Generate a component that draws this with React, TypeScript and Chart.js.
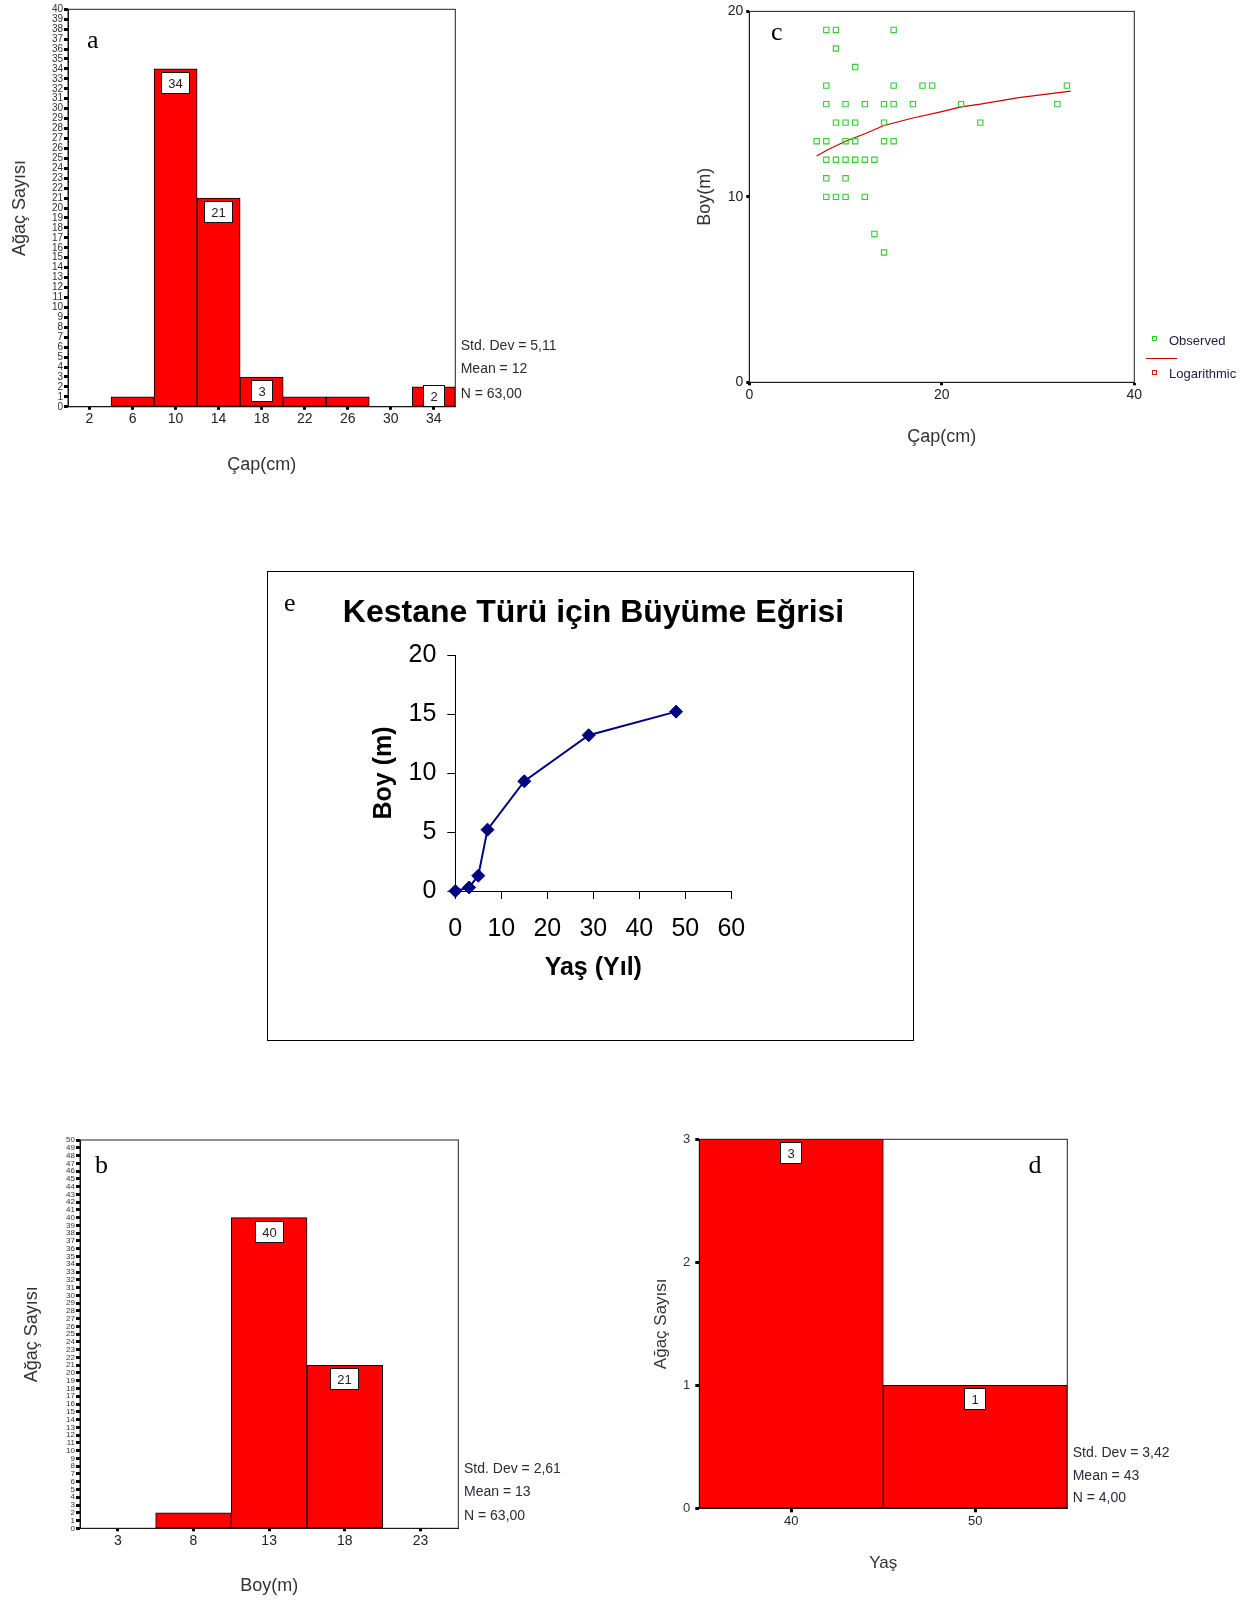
import React, { useEffect, useRef } from "react";
import { Chart, registerables } from "chart.js";

Chart.register(...registerables);

const PAGE_W = 1251;
const PAGE_H = 1603;
const SANS = "'Liberation Sans', Arial, Helvetica, sans-serif";
const SERIF = "'Liberation Serif', 'Times New Roman', serif";
Chart.defaults.font.family = SANS;

// ---------- Panel a: Çap (cm) histogram ----------
const A_BINS = [6, 10, 14, 18, 22, 26, 30, 34];
const A_COUNTS = [1, 34, 21, 3, 1, 1, 0, 2];
const A_XTICKS = [2, 6, 10, 14, 18, 22, 26, 30, 34];
const A_STATS = ["Std. Dev = 5,11", "Mean = 12", "N = 63,00"];

// ---------- Panel b: Boy (m) histogram ----------
const B_BINS = [3, 8, 13, 18, 23];
const B_COUNTS = [0, 2, 40, 21, 0];
const B_XTICKS = [3, 8, 13, 18, 23];
const B_STATS = ["Std. Dev = 2,61", "Mean = 13", "N = 63,00"];

// ---------- Panel c: Çap vs Boy scatter + logarithmic fit ----------
const C_OBS_X = [8, 9, 15, 9, 11, 8, 15, 18, 19, 33, 8, 10, 12, 14, 15, 17, 22, 32, 9, 10, 11, 14, 24, 7, 8, 10, 11, 14, 15, 8, 9, 10, 11, 12, 13, 8, 10, 8, 9, 10, 12, 13, 14];
const C_OBS_Y = [19, 19, 19, 18, 17, 16, 16, 16, 16, 16, 15, 15, 15, 15, 15, 15, 15, 15, 14, 14, 14, 14, 14, 13, 13, 13, 13, 13, 13, 12, 12, 12, 12, 12, 12, 11, 11, 10, 10, 10, 10, 8, 7];
const C_LOG_X = [7, 8, 10, 12, 14, 17, 20, 22, 24, 28, 33.4];
const C_LOG_Y = [12.2, 12.5, 13.0, 13.4, 13.85, 14.25, 14.6, 14.85, 15.0, 15.35, 15.7];
const C_LEGEND = ["Observed", "Logarithmic"];

// ---------- Panel d: Yaş histogram ----------
const D_BINS = [40, 50];
const D_COUNTS = [3, 1];
const D_XTICKS = [40, 50];
const D_STATS = ["Std. Dev = 3,42", "Mean = 43", "N = 4,00"];

// ---------- Panel e: growth curve ----------
const E_TITLE = "Kestane Türü için Büyüme Eğrisi";
const E_AGE = [0, 3, 5, 7, 15, 29, 48];
const E_HEIGHT = [0, 0.3, 1.3, 5.2, 9.3, 13.2, 15.2];

type Area = { L: number; T: number; R: number; B: number; yW: number; xH: number };

const A_AREA: Area = { L: 68, T: 9.3, R: 455.3, B: 406.8, yW: 58.8, xH: 69 };
const B_AREA: Area = { L: 80, T: 1140, R: 458.3, B: 1528.3, yW: 59.1, xH: 68.5 };
const C_AREA: Area = { L: 749.3, T: 8.3, R: 1134.3, B: 382.3, yW: 55.1, xH: 65.9 };
const D_AREA: Area = { L: 699.3, T: 1139.3, R: 1067.3, B: 1508.3, yW: 47.8, xH: 65.2 };
// panel e: the title spans E_TITLE_L..E_TITLE_R (centred on the plot)
const E_AREA: Area = { L: 455.3, T: 593.5, R: 731.3, B: 891, yW: 120.3, xH: 92 };
const E_TITLE_L = 335;
const E_TITLE_R = 852;
const E_TITLE_GAP = 23.1;
const E_YTITLE_X = 384.5;

function paddingFor(a: Area) {
  return {
    left: a.L - a.yW,
    top: a.T,
    right: PAGE_W - a.R,
    bottom: PAGE_H - a.B - a.xH,
  };
}

const framePlugin = {
  id: "frame",
  afterDatasetsDraw(chart: any, _args: any, opts: any) {
    if (!opts || !opts.display) return;
    const { left, top, right, bottom } = chart.chartArea;
    const ctx = chart.ctx;
    ctx.save();
    ctx.strokeStyle = opts.color || "#222";
    ctx.lineWidth = 1;
    ctx.strokeRect(left, top, right - left, bottom - top);
    ctx.restore();
  },
};

const barLabelPlugin = {
  id: "barLabels",
  afterDatasetsDraw(chart: any, _args: any, opts: any) {
    if (!opts || !opts.display) return;
    const meta = chart.getDatasetMeta(0);
    const data = chart.data.datasets[0].data as any[];
    const ctx = chart.ctx;
    ctx.save();
    ctx.font = `${opts.size || 13}px ${SANS}`;
    ctx.textAlign = "center";
    ctx.textBaseline = "middle";
    meta.data.forEach((el: any, i: number) => {
      const v = data[i].y;
      const h = el.base - el.y;
      if (!(v > 0) || h < (opts.minHeight ?? 18)) return;
      const text = String(v);
      const tw = ctx.measureText(text).width;
      const bw = Math.round(tw + 15);
      const bh = 22;
      const top = Math.round(Math.min(el.y + 3, el.base - bh + 1));
      const left = Math.round(el.x - bw / 2);
      ctx.fillStyle = "#fff";
      ctx.fillRect(left, top, bw, bh);
      ctx.strokeStyle = "#111";
      ctx.lineWidth = 1;
      ctx.strokeRect(left + 0.5, top + 0.5, bw - 1, bh - 1);
      ctx.fillStyle = "#222";
      ctx.fillText(text, left + bw / 2, top + bh / 2 + 1);
    });
    ctx.restore();
  },
};

type HistParams = {
  bins: number[];
  counts: number[];
  xTicks: number[];
  xMin: number;
  xMax: number;
  yMax: number;
  area: Area;
  yTickFont: number;
  xTickFont: number;
  yTickLen: number;
  yTickPad: number;
  xTickLen: number;
  xTickPad: number;
  xTitle: string;
  yTitle: string;
  titleSize: number;
};

function histConfig(p: HistParams): any {
  return {
    type: "bar",
    data: {
      datasets: [
        {
          data: p.bins.map((b, i) => ({ x: b, y: p.counts[i] })),
          backgroundColor: "#ff0000",
          borderColor: "#000",
          borderWidth: 1,
          borderSkipped: false,
          barPercentage: 1,
          categoryPercentage: 1,
        },
      ],
    },
    options: {
      responsive: false,
      maintainAspectRatio: false,
      animation: false,
      devicePixelRatio: 1,
      events: [],
      layout: { padding: paddingFor(p.area) },
      plugins: {
        legend: { display: false },
        tooltip: { enabled: false },
        title: { display: false },
        frame: { display: true, color: "#222" },
        barLabels: { display: true, size: 13, minHeight: 18 },
      },
      scales: {
        x: {
          type: "linear",
          min: p.xMin,
          max: p.xMax,
          offset: false,
          afterBuildTicks: (s: any) => {
            s.ticks = p.xTicks.map((v) => ({ value: v }));
          },
          afterFit: (s: any) => {
            s.height = p.area.xH;
          },
          grid: {
            display: true,
            offset: false,
            drawOnChartArea: false,
            drawTicks: true,
            tickLength: p.xTickLen,
            tickWidth: 3,
            tickColor: "#000",
          },
          border: { display: true, color: "#000", width: 1 },
          ticks: {
            autoSkip: false,
            maxRotation: 0,
            minRotation: 0,
            padding: p.xTickPad,
            color: "#222",
            font: { size: p.xTickFont, family: SANS },
          },
          title: {
            display: true,
            text: p.xTitle,
            color: "#333",
            padding: 0,
            font: { size: p.titleSize, family: SANS },
          },
        },
        y: {
          type: "linear",
          min: 0,
          max: p.yMax,
          afterFit: (s: any) => {
            s.width = p.area.yW;
          },
          grid: {
            display: true,
            drawOnChartArea: false,
            drawTicks: true,
            tickLength: p.yTickLen,
            tickWidth: 3,
            tickColor: "#000",
          },
          border: { display: true, color: "#000", width: 1 },
          ticks: {
            stepSize: 1,
            maxTicksLimit: 200,
            autoSkip: false,
            padding: p.yTickPad,
            color: "#333",
            font: { size: p.yTickFont, family: SANS },
          },
          title: {
            display: true,
            text: p.yTitle,
            color: "#333",
            padding: 0,
            font: { size: p.titleSize, family: SANS },
          },
        },
      },
    },
    plugins: [framePlugin, barLabelPlugin],
  };
}

function configA() {
  return histConfig({
    bins: A_BINS,
    counts: A_COUNTS,
    xTicks: A_XTICKS,
    xMin: 0,
    xMax: 36,
    yMax: 40,
    area: A_AREA,
    yTickFont: 10,
    xTickFont: 14,
    yTickLen: 4,
    yTickPad: 1,
    xTickLen: 3,
    xTickPad: 1,
    xTitle: "Çap(cm)",
    yTitle: "Ağaç Sayısı",
    titleSize: 18,
  });
}

function configB() {
  return histConfig({
    bins: B_BINS,
    counts: B_COUNTS,
    xTicks: B_XTICKS,
    xMin: 0.5,
    xMax: 25.5,
    yMax: 50,
    area: B_AREA,
    yTickFont: 8,
    xTickFont: 14,
    yTickLen: 4,
    yTickPad: 1,
    xTickLen: 3,
    xTickPad: 1,
    xTitle: "Boy(m)",
    yTitle: "Ağaç Sayısı",
    titleSize: 18,
  });
}

function configD() {
  return histConfig({
    bins: D_BINS,
    counts: D_COUNTS,
    xTicks: D_XTICKS,
    xMin: 35,
    xMax: 55,
    yMax: 3,
    area: D_AREA,
    yTickFont: 13,
    xTickFont: 13,
    yTickLen: 4,
    yTickPad: 5,
    xTickLen: 4,
    xTickPad: 1,
    xTitle: "Yaş",
    yTitle: "Ağaç Sayısı",
    titleSize: 17,
  });
}

function configC(): any {
  return {
    type: "scatter",
    data: {
      datasets: [
        {
          label: C_LEGEND[0],
          data: C_OBS_X.map((x, i) => ({ x, y: C_OBS_Y[i] })),
          pointStyle: "rect",
          pointRadius: 3.75,
          borderColor: "#33cc33",
          backgroundColor: "rgba(255,255,255,0)",
          borderWidth: 1.1,
          clip: false,
        },
        {
          label: C_LEGEND[1],
          data: C_LOG_X.map((x, i) => ({ x, y: C_LOG_Y[i] })),
          showLine: true,
          borderColor: "#cc0000",
          borderWidth: 1.2,
          pointRadius: 0,
          clip: false,
        },
      ],
    },
    options: {
      responsive: false,
      maintainAspectRatio: false,
      animation: false,
      devicePixelRatio: 1,
      events: [],
      layout: { padding: paddingFor(C_AREA) },
      plugins: {
        legend: { display: false },
        tooltip: { enabled: false },
        frame: { display: true, color: "#222" },
      },
      scales: {
        x: {
          type: "linear",
          min: 0,
          max: 40,
          afterFit: (s: any) => {
            s.height = C_AREA.xH;
          },
          grid: { drawOnChartArea: false, tickLength: 3, tickWidth: 3, tickColor: "#000" },
          border: { display: true, color: "#000", width: 1 },
          ticks: { stepSize: 20, padding: 1, color: "#222", maxRotation: 0, font: { size: 14, family: SANS } },
          title: { display: true, text: "Çap(cm)", color: "#333", padding: 0, font: { size: 18, family: SANS } },
        },
        y: {
          type: "linear",
          min: 0,
          max: 20,
          afterFit: (s: any) => {
            s.width = C_AREA.yW;
          },
          grid: { drawOnChartArea: false, tickLength: 3, tickWidth: 3, tickColor: "#000" },
          border: { display: true, color: "#000", width: 1 },
          ticks: { stepSize: 10, padding: 3, color: "#222", font: { size: 14, family: SANS } },
          title: { display: true, text: "Boy(m)", color: "#333", padding: 0, font: { size: 18, family: SANS } },
        },
      },
    },
    plugins: [framePlugin],
  };
}

function configE(): any {
  const rightW = E_TITLE_R - E_AREA.R; // invisible right axis width
  return {
    type: "scatter",
    data: {
      datasets: [
        {
          data: E_AGE.map((x, i) => ({ x, y: E_HEIGHT[i] })),
          showLine: true,
          borderColor: "#000080",
          backgroundColor: "#000080",
          borderWidth: 2,
          pointStyle: "rectRot",
          pointRadius: 6.5,
          pointBorderWidth: 1,
          pointBackgroundColor: "#000080",
          pointBorderColor: "#000080",
          clip: false,
        },
      ],
    },
    options: {
      responsive: false,
      maintainAspectRatio: false,
      animation: false,
      devicePixelRatio: 1,
      events: [],
      layout: {
        padding: {
          left: E_TITLE_L,
          right: PAGE_W - E_TITLE_R,
          top: E_AREA.T,
          bottom: PAGE_H - E_AREA.B - E_AREA.xH,
        },
      },
      plugins: {
        legend: { display: false },
        tooltip: { enabled: false },
        title: {
          display: true,
          text: E_TITLE,
          fullSize: true,
          color: "#000",
          padding: { top: 0, bottom: E_TITLE_GAP },
          font: { size: 32, weight: "bold", family: SANS },
        },
      },
      scales: {
        x: {
          type: "linear",
          min: 0,
          max: 60,
          afterFit: (s: any) => {
            s.height = E_AREA.xH;
          },
          grid: { drawOnChartArea: false, tickLength: 8, tickWidth: 1, tickColor: "#000" },
          border: { display: true, color: "#000", width: 1 },
          ticks: { stepSize: 10, padding: 15, color: "#000", maxRotation: 0, font: { size: 25, family: SANS } },
          title: { display: true, text: "Yaş (Yıl)", color: "#000", padding: 0, font: { size: 25, weight: "bold", family: SANS } },
        },
        y: {
          type: "linear",
          min: 0,
          max: 20,
          afterFit: (s: any) => {
            s.width = E_AREA.L - E_TITLE_L;
          },
          grid: { drawOnChartArea: false, tickLength: 8, tickWidth: 1, tickColor: "#000" },
          border: { display: true, color: "#000", width: 1 },
          ticks: { stepSize: 5, padding: 11, color: "#000", font: { size: 25, family: SANS } },
          title: {
            display: true,
            text: "Boy (m)",
            color: "#000",
            padding: { top: E_YTITLE_X - E_TITLE_L - 15, bottom: 0 },
            font: { size: 25, weight: "bold", family: SANS },
          },
        },
        yRight: {
          type: "linear",
          position: "right",
          display: true,
          min: 0,
          max: 20,
          afterFit: (s: any) => {
            s.width = rightW;
          },
          grid: { display: false, drawOnChartArea: false, drawTicks: false },
          border: { display: false },
          ticks: { display: false },
          title: { display: false },
        },
      },
    },
  };
}

function Txt(props: {
  x: number;
  baseline: number;
  size: number;
  serif?: boolean;
  color?: string;
  children: React.ReactNode;
}) {
  const family = props.serif ? SERIF : SANS;
  const asc = props.serif ? 0.8375 : 0.8465;
  return (
    <div
      style={{
        position: "absolute",
        left: props.x,
        top: props.baseline - asc * props.size,
        fontSize: props.size,
        lineHeight: `${props.size}px`,
        fontFamily: family,
        color: props.color || "#2a2a3a",
        whiteSpace: "nowrap",
      }}
    >
      {props.children}
    </div>
  );
}

function Stats(props: { x: number; baselines: number[]; lines: string[] }) {
  return (
    <>
      {props.lines.map((s, i) => (
        <Txt key={i} x={props.x} baseline={props.baselines[i]} size={14}>
          {s}
        </Txt>
      ))}
    </>
  );
}

export default function App() {
  const refA = useRef<HTMLCanvasElement>(null);
  const refB = useRef<HTMLCanvasElement>(null);
  const refC = useRef<HTMLCanvasElement>(null);
  const refD = useRef<HTMLCanvasElement>(null);
  const refE = useRef<HTMLCanvasElement>(null);

  useEffect(() => {
    const charts = [
      new Chart(refA.current as HTMLCanvasElement, configA()),
      new Chart(refB.current as HTMLCanvasElement, configB()),
      new Chart(refC.current as HTMLCanvasElement, configC()),
      new Chart(refD.current as HTMLCanvasElement, configD()),
      new Chart(refE.current as HTMLCanvasElement, configE()),
    ];
    return () => charts.forEach((c) => c.destroy());
  }, []);

  const canvasStyle: React.CSSProperties = {
    position: "absolute",
    left: 0,
    top: 0,
    width: PAGE_W,
    height: PAGE_H,
  };

  return (
    <div
      style={{
        position: "absolute",
        left: 0,
        top: 0,
        width: PAGE_W,
        height: PAGE_H,
        background: "#fff",
        overflow: "hidden",
      }}
    >
      {/* frame of panel e */}
      <div
        style={{
          position: "absolute",
          left: 267,
          top: 571,
          width: 914 - 267,
          height: 1041 - 571,
          border: "1px solid #000",
          boxSizing: "border-box",
        }}
      />
      <canvas ref={refA} width={PAGE_W} height={PAGE_H} style={canvasStyle} />
      <canvas ref={refB} width={PAGE_W} height={PAGE_H} style={canvasStyle} />
      <canvas ref={refC} width={PAGE_W} height={PAGE_H} style={canvasStyle} />
      <canvas ref={refD} width={PAGE_W} height={PAGE_H} style={canvasStyle} />
      <canvas ref={refE} width={PAGE_W} height={PAGE_H} style={canvasStyle} />

      {/* panel letters */}
      <Txt x={87} baseline={49} size={26} serif color="#000">a</Txt>
      <Txt x={95} baseline={1173.3} size={26} serif color="#000">b</Txt>
      <Txt x={771} baseline={40.7} size={26} serif color="#000">c</Txt>
      <Txt x={1028.5} baseline={1174} size={26} serif color="#000">d</Txt>
      <Txt x={284} baseline={611.7} size={26} serif color="#000">e</Txt>

      {/* statistics */}
      <Stats x={460.7} baselines={[350, 373.3, 398.3]} lines={A_STATS} />
      <Stats x={464} baselines={[1472.7, 1495.7, 1520]} lines={B_STATS} />
      <Stats x={1072.7} baselines={[1457.3, 1480, 1501.7]} lines={D_STATS} />

      {/* legend of panel c */}
      <div
        style={{
          position: "absolute",
          left: 1151.5,
          top: 335.8,
          width: 5,
          height: 5,
          border: "1px solid #33cc33",
          boxSizing: "border-box",
        }}
      />
      <Txt x={1169} baseline={345} size={13} color="#1c1c3c">
        {C_LEGEND[0]}
      </Txt>
      <div
        style={{
          position: "absolute",
          left: 1146,
          top: 358,
          width: 31,
          height: 1,
          background: "#cc0000",
        }}
      />
      <div
        style={{
          position: "absolute",
          left: 1151.5,
          top: 369.8,
          width: 5,
          height: 5,
          border: "1px solid #cc2020",
          boxSizing: "border-box",
        }}
      />
      <Txt x={1169} baseline={377.7} size={13} color="#1c1c3c">
        {C_LEGEND[1]}
      </Txt>
    </div>
  );
}
